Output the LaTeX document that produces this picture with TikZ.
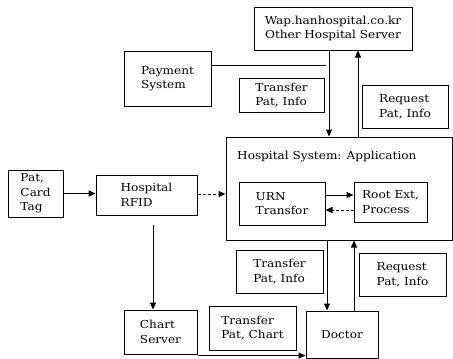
\documentclass[tikz,border=0pt]{standalone}
\usepackage{fontspec}
\setmainfont[FakeStretch=1.1]{DejaVu Serif}
\usepackage{tikz}
\usetikzlibrary{arrows.meta,positioning,calc}

\begin{document}
\begin{tikzpicture}[x=1pt,y=-1pt,
  box/.style={draw,line width=1pt,inner sep=2pt,align=left,font=\fontsize{11}{14.5}\selectfont},
  arr/.style={line width=1pt,-{Triangle[length=7pt,width=6pt]}},
  lnk/.style={line width=1pt}]
\useasboundingbox (0,0) rectangle (453,359);
% upper part
\node[box,align=center,minimum width=158,minimum height=43] (wap) at (333,28.5) {Wap.hanhospital.co.kr\\Other Hospital Server};
\node[box,minimum width=87,minimum height=55] (pay) at (167.5,78.5) {Payment\\System};
\node[box,minimum width=85,minimum height=34] (trtop) at (281.5,95) {Transfer\\Pat, Info};
\node[box,minimum width=86,minimum height=43] (rqtop) at (405,106.5) {Request\\Pat, Info};
% hospital system container
\node[box,minimum width=226,minimum height=103] (hsys) at (339,188.5) {};
\node[anchor=west,inner sep=0pt,font=\fontsize{11}{14.5}\selectfont] (hsyslbl) at (237,157) {Hospital System: Application};
\node[box,minimum width=86,minimum height=43] (urn) at (282,203.5) {URN\\Transfor};
\node[box,minimum width=73,minimum height=40] (root) at (390.5,202) {Root Ext,\\Process};
% left part
\node[box,minimum width=55,minimum height=47,inner sep=1pt] (pat) at (35.5,193.5) {Pat,\\Card\\Tag};
\node[box,minimum width=101,minimum height=40] (rfid) at (146.5,195) {Hospital\\RFID};
% lower part
\node[box,minimum width=87,minimum height=43] (trbot) at (279.5,271.5) {Transfer\\Pat, Info};
\node[box,minimum width=87,minimum height=43] (rqbot) at (402.5,274.5) {Request\\Pat, Info};
\node[box,minimum width=73,minimum height=44] (chart) at (160.5,332) {Chart\\Server};
\node[box,minimum width=87,minimum height=44] (trchart) at (252.5,328) {Transfer\\Pat, Chart};
\node[box,minimum width=72,minimum height=47] (doc) at (342,334.5) {Doctor};

% links to the server on top
\coordinate (wapdown) at ([xshift=-4]wap.south);
\coordinate (wapup) at ([xshift=25]wap.south);
\coordinate (payout) at ([yshift=13.5]pay.east);
\draw[arr] (wapdown) -- (wapdown |- hsys.north);
\draw[arr] (wapup |- hsys.north) -- (wapup);
\draw[lnk] (payout) -- ([xshift=-3]wapdown |- payout);
% card and rfid
\draw[arr] (pat) -- (pat.east -| rfid.west);
\draw[arr,densely dashed] ([yshift=1]rfid.east) -- ([yshift=1]rfid.east -| hsys.west);
\draw[arr] ([xshift=6.5,yshift=-9]rfid.south) -- ([xshift=6.5]rfid.south |- chart.north);
% inside the application
\draw[arr] ([yshift=8.5]urn.east) -- ([yshift=8.5]urn.east -| root.west);
\draw[arr,densely dashed] ([yshift=-8]root.west) -- ([yshift=-8]root.west -| urn.east);
% links to the doctor
\coordinate (docdown) at ([xshift=-15]doc.north);
\coordinate (docup) at ([xshift=12]doc.north);
\draw[arr] (docdown |- hsys.south) -- (docdown);
\draw[arr] (docup) -- (docup |- hsys.south);
\draw[arr] ([yshift=-1]chart.south east) -- ([yshift=-1]chart.south east -| doc.west);
\end{tikzpicture}
\end{document}
